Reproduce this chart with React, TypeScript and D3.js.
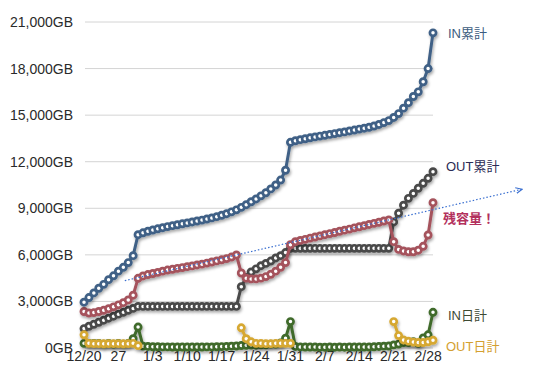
import React from "react";
import * as d3 from "d3";

const W = 538;
const H = 380;

const yTicks = [0, 3000, 6000, 9000, 12000, 15000, 18000, 21000];
const xTickDays = [0, 7, 14, 21, 28, 35, 42, 49, 56, 63, 70];
const xTickLabels = ["12/20", "27", "1/3", "1/10", "1/17", "1/24", "1/31", "2/7", "2/14", "2/21", "2/28"];

const inTotal = [
  2950, 3250, 3550, 3850, 4100, 4400, 4650, 4950, 5200, 5500, 5950,
  7300, 7420, 7520, 7600, 7680, 7750, 7820, 7880, 7940, 8000,
  8060, 8120, 8180, 8240, 8310, 8380, 8460, 8550, 8650, 8770,
  8900, 9060, 9230, 9420, 9600, 9800, 10000, 10250, 10500, 10820,
  11450,
  13250, 13350, 13420, 13480, 13540, 13600, 13650, 13700, 13760, 13810,
  13870, 13920, 13980, 14040, 14100, 14160, 14220, 14300, 14400, 14520,
  14650, 14850, 15100, 15450, 15800, 16200, 16500, 17150, 18000, 20300,
];

const outTotal = [
  1250, 1400, 1530, 1660, 1790, 1920, 2050, 2180, 2300, 2430, 2550,
  2680, 2680, 2680, 2680, 2680, 2680, 2680, 2680, 2680, 2680,
  2680, 2680, 2680, 2680, 2680, 2680, 2680, 2680, 2680, 2680,
  2680,
  3950, 4550, 4900, 5100, 5300, 5450, 5600, 5800, 5950, 6150,
  6420, 6420, 6420, 6420, 6420, 6420, 6420, 6420, 6420, 6420,
  6420, 6420, 6420, 6420, 6420, 6420, 6420, 6420, 6420, 6420,
  6420,
  8120, 8680, 9200, 9640, 9960, 10290, 10610, 10930, 11360,
];

const remaining = [
  2350, 2250, 2280, 2350, 2430, 2530, 2650, 2780, 2920, 3100, 3400,
  4490, 4640, 4730, 4800, 4870, 4950, 5020, 5070, 5130, 5180,
  5240, 5290, 5350, 5400, 5470, 5540, 5610, 5680, 5760, 5860,
  5990,
  4830, 4500, 4450, 4450, 4500, 4600, 4750, 4950, 5200, 5500,
  6650, 6850, 6930, 7000, 7080, 7150, 7220, 7300, 7370, 7440,
  7520, 7590, 7660, 7740, 7810, 7880, 7960, 8030, 8100, 8180,
  8250,
  6850, 6350, 6250, 6200, 6200, 6300, 6550, 7280, 9360,
];

const inDaily = [
  300, 300, 300, 300, 250, 300, 250, 300, 250, 300, 600, 1350,
  120, 100, 80, 80, 70, 70, 60, 60, 60, 60,
  60, 60, 60, 70, 70, 80, 90, 100, 120, 130,
  160, 170, 190, 180, 200, 200, 250, 250, 320, 630,
  1700,
  100, 70, 60, 60, 60, 50, 50, 60, 50, 60,
  50, 60, 60, 60, 60, 60, 80, 100, 120, 130,
  200, 250, 350, 350, 400, 300, 650, 850, 2300,
];

const N = null;
const outDaily: (number | null)[] = [
  850, 300, 280, 280, 270, 280, 280, 280, 270, 280, 300, 150,
  N, N, N, N, N, N, N, N, N, N,
  N, N, N, N, N, N, N, N, N, N,
  1300, 600, 400, 300, 300, 280, 280, 300, 300, 300,
  300,
  N, N, N, N, N, N, N, N, N, N,
  N, N, N, N, N, N, N, N, N, N,
  1700, 800, 520, 440, 380, 350, 350, 400, 500,
];

const trendStart = [8.3, 4340];
const trendEnd = [89, 10220];

const seriesDefs = [
  { name: "OUT累計", values: outTotal, color: "#4a4a4a" },
  { name: "残容量", values: remaining, color: "#a5525c" },
  { name: "IN累計", values: inTotal, color: "#3f6186" },
  { name: "IN日計", values: inDaily, color: "#3f6b2c" },
  { name: "OUT日計", values: outDaily, color: "#d6a833" },
];

const labels = [
  { text: "IN累計", x: 448, y: 38, color: "#3c5c80", weight: "normal" },
  { text: "OUT累計", x: 446, y: 171, color: "#2b2b55", weight: "normal" },
  { text: "残容量！", x: 443, y: 223, color: "#b3305c", weight: "bold" },
  { text: "IN日計", x: 448, y: 320, color: "#3d4a33", weight: "normal" },
  { text: "OUT日計", x: 446, y: 351, color: "#d4a030", weight: "normal" },
];

const FONT = "'Liberation Sans', 'Noto Sans CJK JP', sans-serif";

export default function App() {
  const x = d3.scaleLinear().domain([0, 71]).range([84, 433]);
  const y = d3.scaleLinear().domain([0, 21000]).range([348, 22]);

  const line = d3
    .line<number | null>()
    .defined((d) => d !== null)
    .x((_, i) => x(i))
    .y((d) => y(d as number));

  return (
    <svg
      width={W}
      height={H}
      style={{ position: "absolute", left: 0, top: 0, background: "#fff" }}
      fontFamily={FONT}
    >
      <defs>
        <filter id="shadow" x="-10%" y="-10%" width="120%" height="130%">
          <feDropShadow dx="1" dy="2" stdDeviation="1.4" floodColor="#000" floodOpacity="0.35" />
        </filter>
        <marker id="arrow" viewBox="0 0 10 10" refX="8" refY="5" markerWidth="6" markerHeight="6" orient="auto">
          <path d="M0,1 L9,5 L0,9" fill="none" stroke="#3a6fd0" strokeWidth="1.5" />
        </marker>
      </defs>

      {yTicks.map((t) => (
        <g key={t}>
          <line x1={85} x2={433} y1={y(t)} y2={y(t)} stroke="#d4d4d4" strokeWidth={1} />
          <text x={73} y={y(t) + 5} textAnchor="end" fontSize={14} fill="#2a2a2a">
            {d3.format(",")(t) + "GB"}
          </text>
        </g>
      ))}

      {xTickDays.map((d, i) => (
        <text key={d} x={x(d)} y={361} textAnchor="middle" fontSize={14} fill="#2a2a2a">
          {xTickLabels[i]}
        </text>
      ))}

      {seriesDefs.map((s) => (
        <g key={s.name} filter="url(#shadow)">
          <path d={line(s.values as (number | null)[]) || ""} fill="none" stroke={s.color} strokeWidth={3} strokeLinejoin="round" />
          {(s.values as (number | null)[]).map((v, i) =>
            v === null ? null : (
              <circle key={i} cx={x(i)} cy={y(v)} r={3.1} fill="#fff" stroke={s.color} strokeWidth={2.7} />
            )
          )}
        </g>
      ))}

      <line
        x1={x(trendStart[0])}
        y1={y(trendStart[1])}
        x2={x(trendEnd[0])}
        y2={y(trendEnd[1])}
        stroke="#3a6fd0"
        strokeWidth={1.2}
        strokeDasharray="1.5,2"
        markerEnd="url(#arrow)"
      />

      {labels.map((l) => (
        <text key={l.text} x={l.x} y={l.y} fontSize={13} fill={l.color} fontWeight={l.weight}>
          {l.text}
        </text>
      ))}
    </svg>
  );
}
